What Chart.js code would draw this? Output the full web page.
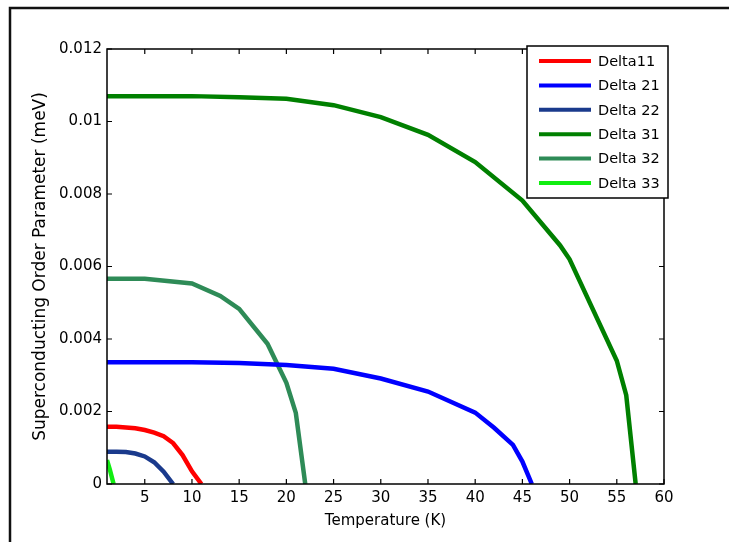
<!DOCTYPE html>
<html><head><meta charset="utf-8">
<script src="https://cdn.jsdelivr.net/npm/chart.js@4.4.1/dist/chart.umd.min.js"></script>
<style>html,body{margin:0;padding:0;background:#fff}#wrap{width:729px;height:542px}</style>
</head><body><div id="wrap"><canvas id="c" width="729" height="542"></canvas></div>
<script>
// ---- data ----
const seriesNames = ['Delta11', 'Delta 21', 'Delta 22', 'Delta 31', 'Delta 32', 'Delta 33'];
const seriesColors = ['#ff0000', '#0000ff', '#1a3a8c', '#008000', '#2e8b57', '#11ee11'];

const t11 = [1, 2, 3, 4, 5, 6, 7, 8, 9, 10, 11];
const d11 = [0.00158, 0.00158, 0.00156, 0.00154, 0.00149, 0.00142, 0.00132, 0.00113, 0.00080, 0.00035, 0];

const t21 = [1, 5, 10, 15, 20, 25, 30, 35, 40, 42, 44, 45, 46];
const d21 = [0.00336, 0.00336, 0.00336, 0.00334, 0.00328, 0.00318, 0.00291, 0.00255, 0.00197, 0.00155, 0.00108, 0.00062, 0];

const t22 = [1, 2, 3, 4, 5, 6, 7, 8];
const d22 = [0.00089, 0.00089, 0.00088, 0.00084, 0.00076, 0.00060, 0.00034, 0];

const t31 = [1, 5, 10, 15, 20, 25, 30, 35, 40, 45, 49, 50, 55, 56, 57];
const d31 = [0.0107, 0.0107, 0.0107, 0.01067, 0.01063, 0.01045, 0.01012, 0.00963, 0.00888, 0.00782, 0.00658, 0.0062, 0.0034, 0.00245, 0];

const t32 = [1, 5, 10, 13, 15, 18, 20, 21, 22];
const d32 = [0.00566, 0.00566, 0.00553, 0.00519, 0.00483, 0.00387, 0.00279, 0.00196, 0];

const t33 = [1, 1.3, 1.7];
const d33 = [0.00066, 0.00040, 0];

const xTicks = [5, 10, 15, 20, 25, 30, 35, 40, 45, 50, 55, 60];
const yTicks = [0, 0.002, 0.004, 0.006, 0.008, 0.01, 0.012];
const yTickLabels = ['0', '0.002', '0.004', '0.006', '0.008', '0.01', '0.012'];
const xTitle = 'Temperature (K)';
const yTitle = 'Superconducting Order Parameter (meV)';

// ---- build ----
const allT = [t11, t21, t22, t31, t32, t33];
const allD = [d11, d21, d22, d31, d32, d33];
const datasets = seriesNames.map((name, i) => ({
  label: name,
  data: allT[i].map((t, j) => ({x: t, y: allD[i][j]})),
  borderColor: seriesColors[i],
  backgroundColor: seriesColors[i],
  borderWidth: 4.5,
  pointRadius: 0,
  tension: 0,
  fill: false,
  clip: 0
}));

const FONT = 'DejaVu Sans';

const decor = {
  id: 'decor',
  beforeDraw(chart) {
    const ctx = chart.ctx;
    ctx.save();
    ctx.fillStyle = '#fff';
    ctx.fillRect(0, 0, chart.width, chart.height);
    ctx.strokeStyle = '#111';
    ctx.lineWidth = 2.5;
    ctx.beginPath();
    ctx.moveTo(10, chart.height);
    ctx.lineTo(10, 8);
    ctx.lineTo(chart.width, 8);
    ctx.stroke();
    ctx.restore();
  },
  afterDatasetsDraw(chart) {
    const ctx = chart.ctx;
    const a = chart.chartArea;
    const xs = chart.scales.x, ys = chart.scales.y;
    ctx.save();
    ctx.strokeStyle = '#000';
    ctx.lineWidth = 1.5;
    ctx.strokeRect(a.left, a.top, a.right - a.left, a.bottom - a.top);
    const tl = 5;
    ctx.beginPath();
    xTicks.forEach(v => {
      const px = xs.getPixelForValue(v);
      ctx.moveTo(px, a.bottom); ctx.lineTo(px, a.bottom - tl);
      ctx.moveTo(px, a.top); ctx.lineTo(px, a.top + tl);
    });
    yTicks.forEach(v => {
      const py = ys.getPixelForValue(v);
      ctx.moveTo(a.left, py); ctx.lineTo(a.left + tl, py);
      ctx.moveTo(a.right, py); ctx.lineTo(a.right - tl, py);
    });
    ctx.lineWidth = 1.2;
    ctx.stroke();

    // legend
    const bx = 527, by = 46, bw = 141, bh = 152;
    ctx.fillStyle = '#fff';
    ctx.fillRect(bx, by, bw, bh);
    ctx.lineWidth = 1.5;
    ctx.strokeStyle = '#000';
    ctx.strokeRect(bx, by, bw, bh);
    ctx.font = '14.5px "' + FONT + '"';
    ctx.textBaseline = 'middle';
    ctx.textAlign = 'left';
    chart.data.datasets.forEach((ds, i) => {
      const y = 61 + i * 24.4;
      ctx.strokeStyle = ds.borderColor;
      ctx.lineWidth = 4;
      ctx.beginPath();
      ctx.moveTo(539, y); ctx.lineTo(591, y);
      ctx.stroke();
      ctx.fillStyle = '#000';
      ctx.fillText(ds.label, 598, y + 1);
    });
    ctx.restore();
  }
};

new Chart(document.getElementById('c'), {
  type: 'line',
  data: {datasets},
  options: {
    responsive: false,
    animation: false,
    devicePixelRatio: 1,
    layout: {padding: {top: 49, right: 65, bottom: 0, left: 0}},
    plugins: {legend: {display: false}, tooltip: {enabled: false}},
    scales: {
      x: {
        type: 'linear', position: 'bottom', min: 1, max: 60,
        grid: {display: false, drawTicks: false},
        border: {display: false},
        afterBuildTicks: s => { s.ticks = xTicks.map(v => ({value: v})); },
        afterFit: s => { s.height = 58; },
        ticks: {color: '#000', font: {family: FONT, size: 15}, padding: 5, maxRotation: 0, autoSkip: false},
        title: {display: true, text: xTitle, color: '#000', font: {family: FONT, size: 15}, padding: {top: 0, bottom: 12}}
      },
      y: {
        type: 'linear', position: 'left', min: 0, max: 0.012,
        grid: {display: false, drawTicks: false},
        border: {display: false},
        afterBuildTicks: s => { s.ticks = yTicks.map(v => ({value: v})); },
        afterFit: s => { s.width = 107; },
        ticks: {color: '#000', font: {family: FONT, size: 15}, padding: 5,
          callback: (v, i) => yTickLabels[i]},
        title: {display: true, text: yTitle, color: '#000', font: {family: FONT, size: 17}, padding: {top: 30, bottom: 0}}
      }
    }
  },
  plugins: [decor]
});
</script></body></html>
